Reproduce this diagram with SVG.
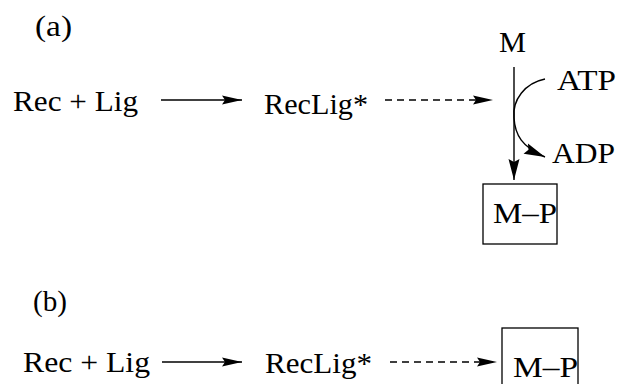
<svg xmlns="http://www.w3.org/2000/svg" width="619" height="384" viewBox="0 0 619 384">
<defs>
<style>
text{font-family:"Liberation Serif","Times New Roman",serif;font-size:29px;fill:#000}
.ln{fill:none;stroke:#000;stroke-width:1.4}
.dash{stroke-dasharray:7 5}
.box{fill:none;stroke:#000;stroke-width:1.3}
</style>
<marker id="ah" markerUnits="userSpaceOnUse" viewBox="-21 -6 22 12" refX="0" refY="0" markerWidth="22" markerHeight="12" orient="auto">
<path d="M-20,-4.5 L0,0 L-20,4.5 L-17,0 z" fill="#000"/>
</marker>
<marker id="ahv" markerUnits="userSpaceOnUse" viewBox="-23 -7 24 14" refX="0" refY="0" markerWidth="24" markerHeight="14" orient="auto">
<path d="M-21,-5.5 L0,0 L-21,5.5 L-18,0 z" fill="#000"/>
</marker>
</defs>
<rect width="619" height="384" fill="#fff"/>
<g id="label-a"><text x="35" y="36" textLength="37" lengthAdjust="spacingAndGlyphs">(a)</text></g>
<g id="a-reclig-in"><text x="13" y="111" textLength="125" lengthAdjust="spacingAndGlyphs">Rec + Lig</text></g>
<g id="a-reclig-star"><text x="264" y="114" textLength="104" lengthAdjust="spacingAndGlyphs">RecLig*</text></g>
<g id="a-M"><text x="499" y="52" textLength="27" lengthAdjust="spacingAndGlyphs">M</text></g>
<g id="a-ATP"><text x="557" y="90" textLength="59" lengthAdjust="spacingAndGlyphs">ATP</text></g>
<g id="a-ADP"><text x="552" y="163" textLength="63" lengthAdjust="spacingAndGlyphs">ADP</text></g>
<g id="a-MP"><rect class="box" x="483" y="184" width="74" height="60"/><text x="493" y="223" textLength="64" lengthAdjust="spacingAndGlyphs">M–P</text></g>
<g id="label-b"><text x="33" y="311" textLength="34" lengthAdjust="spacingAndGlyphs">(b)</text></g>
<g id="b-reclig-in"><text x="23" y="372" textLength="127" lengthAdjust="spacingAndGlyphs">Rec + Lig</text></g>
<g id="b-reclig-star"><text x="265" y="373" textLength="107" lengthAdjust="spacingAndGlyphs">RecLig*</text></g>
<g id="b-MP"><rect class="box" x="502" y="328" width="76" height="70"/><text x="513" y="377" textLength="65" lengthAdjust="spacingAndGlyphs">M–P</text></g>
<g id="connectors">
<line class="ln" x1="161" y1="100" x2="242" y2="100" marker-end="url(#ah)"/>
<line class="ln dash" x1="385" y1="100" x2="493" y2="100" marker-end="url(#ah)"/>
<line class="ln" x1="514" y1="67" x2="514" y2="180" marker-end="url(#ahv)"/>
<path class="ln" stroke-width="1" d="M545,79 C525,83 512,100 514,118 C515,135 522,147 545,157" marker-end="url(#ahv)"/>
<line class="ln" x1="162" y1="362" x2="242" y2="362" marker-end="url(#ah)"/>
<line class="ln dash" x1="390" y1="362" x2="497" y2="362" marker-end="url(#ah)"/>
</g>
</svg>
